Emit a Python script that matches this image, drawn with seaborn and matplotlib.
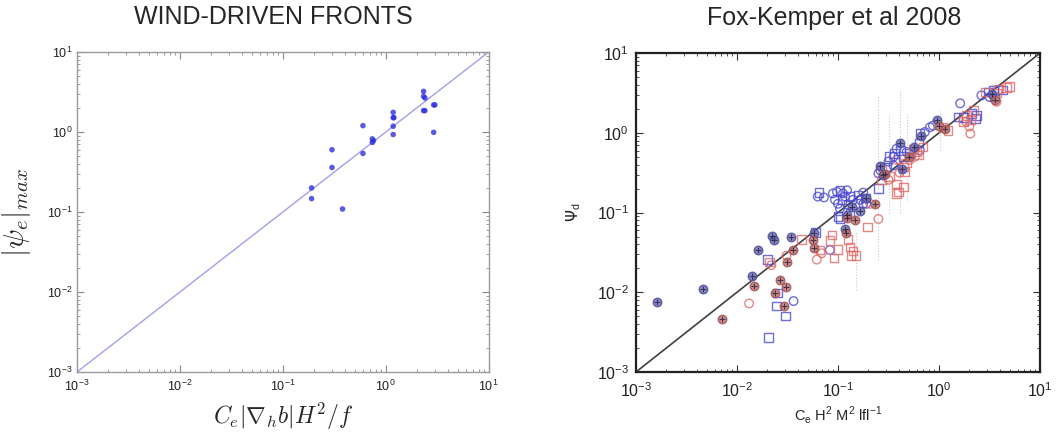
import numpy as np
import matplotlib.pyplot as plt
import pandas as pd
import seaborn as sns

# ---- left panel: wind-driven fronts
wind_x = [0.19, 0.19, 0.30, 0.30, 0.38, 0.60, 0.60, 0.74, 0.74, 0.76,
          1.18, 1.18, 1.20, 1.18, 1.18, 2.33, 2.33, 2.40, 2.33, 2.40, 2.92, 3.00, 2.92]
wind_y = [0.20, 0.147, 0.60, 0.36, 0.109, 1.20, 0.54, 0.82, 0.74, 0.78,
          1.76, 1.51, 1.51, 1.18, 0.93, 3.22, 2.79, 2.66, 1.85, 1.85, 2.18, 2.18, 0.99]

# ---- right panel: Fox-Kemper et al 2008 (log10 values)
blue_filled = [(-2.79, -2.12), (-2.34, -1.96), (-1.85, -1.79), (-1.79, -1.47), (-1.65, -1.29),
               (-1.63, -1.34), (-1.47, -1.31), (-1.24, -1.26), (-0.93, -1.21), (-0.91, -1.03),
               (-0.86, -0.93), (-0.78, -0.98), (-0.72, -0.82), (-0.58, -0.41), (-0.55, -0.53),
               (-0.39, -0.13), (-0.37, -0.45), (-0.25, -0.18), (-0.18, -0.04), (-0.02, 0.16),
               (0.52, 0.49)]
red_filled = [(-2.15, -2.34), (-1.83, -1.92), (-1.62, -2.01), (-1.57, -1.84), (-1.53, -2.17),
              (-1.51, -1.94), (-1.50, -1.62), (-1.45, -1.47), (-1.25, -1.34), (-1.24, -1.45),
              (-0.92, -1.26), (-0.91, -1.07), (-0.83, -1.09), (-0.63, -0.89), (-0.53, -0.51),
              (-0.30, -0.30), (0.00, 0.08), (0.06, 0.05), (0.55, 0.41)]
blue_circle = [(-1.44, -2.11), (-1.08, -1.47), (-1.20, -0.80), (-1.14, -0.81), (-1.05, -0.76),
               (-1.01, -0.74), (-0.95, -0.76), (-1.03, -0.84), (-1.00, -0.89), (-0.93, -0.80),
               (-0.91, -0.72), (-0.98, -0.95), (-0.85, -0.84), (-0.78, -0.84), (-0.75, -0.75),
               (-0.75, -0.89), (-0.72, -0.89), (-0.60, -0.51), (-0.58, -0.47), (-0.50, -0.36),
               (-0.45, -0.30), (-0.42, -0.20), (-0.32, -0.24), (-0.45, -0.41), (-0.19, -0.22),
               (-0.14, 0.01), (-0.09, 0.07), (-0.06, 0.09), (0.21, 0.37), (0.42, 0.47), (0.50, 0.45)]
red_circle = [(-1.88, -2.14), (-1.66, -1.66), (-1.51, -1.54), (-1.21, -1.59), (-1.16, -1.51),
              (-0.68, -0.89), (-0.60, -1.08), (-0.42, -0.34), (-0.39, -0.50), (-0.50, -0.59),
              (-0.56, -0.45), (-0.29, -0.34), (-0.24, -0.30), (0.30, 0.08), (0.31, -0.01),
              (0.27, 0.14), (0.57, 0.39)]
blue_square = [(-1.70, -1.59), (-1.61, -2.17), (-1.60, -2.01), (-1.52, -2.30), (-1.69, -2.57),
               (-1.22, -1.25), (-1.19, -0.75), (-0.98, -0.72), (-0.96, -0.84), (-0.88, -0.80),
               (-0.90, -0.89), (-0.80, -0.78), (-0.73, -0.82), (-0.88, -1.01), (-1.00, -1.05),
               (-0.98, -1.08), (-0.60, -0.70), (-0.52, -0.43), (-0.49, -0.30), (-0.44, -0.26),
               (-0.38, -0.22), (-0.35, -0.30), (-0.29, -0.26), (-0.20, -0.13), (-0.19, -0.01),
               (0.19, 0.20), (0.24, 0.19), (0.32, 0.24), (0.37, 0.22), (0.36, 0.18),
               (0.49, 0.51), (0.54, 0.53), (0.55, 0.45), (0.63, 0.54)]
red_square = [(-1.68, -1.62), (-1.36, -1.34), (-1.18, -1.47), (-1.06, -1.28), (-1.08, -1.35),
              (-1.04, -1.57), (-1.00, -1.46), (-0.90, -1.34), (-0.87, -1.54), (-0.82, -1.54),
              (-0.88, -1.43), (-0.85, -1.48), (-0.71, -1.18), (-0.57, -0.59), (-0.25, -0.21),
              (-0.22, -0.24), (-0.32, -0.38), (-0.35, -0.43), (-0.34, -0.49), (-0.49, -0.55),
              (-0.42, -0.64), (-0.42, -0.76), (-0.40, -0.74), (-0.35, -0.68), (-0.20, -0.28),
              (-0.16, -0.18), (0.04, 0.07), (0.09, 0.03), (0.24, 0.14), (0.27, 0.22),
              (0.34, 0.28), (0.31, 0.16), (0.46, 0.51), (0.57, 0.50), (0.59, 0.55),
              (0.67, 0.57), (0.70, 0.58)]

# faint dotted spread bars (log10 x, log10 low, log10 high)
spread_x = [-0.82, -0.60, -0.49, -0.39, -0.32, 0.01, 0.52]
spread_lo = [-1.97, -1.59, -1.01, -1.01, -0.84, -0.22, 0.41]
spread_hi = [-1.26, 0.45, 0.22, 0.53, 0.24, 0.28, 0.62]


def to_frame(pairs, kind):
    df = pd.DataFrame(pairs, columns=['lx', 'ly'])
    df['x'] = 10 ** df['lx']
    df['y'] = 10 ** df['ly']
    df['kind'] = kind
    return df


fk = pd.concat([to_frame(blue_filled, 'bf'), to_frame(red_filled, 'rf'),
                to_frame(blue_circle, 'bc'), to_frame(red_circle, 'rc'),
                to_frame(blue_square, 'bs'), to_frame(red_square, 'rs')], ignore_index=True)

sns.set_style('ticks')
plt.rcParams['font.family'] = ['Liberation Sans', 'DejaVu Sans']

fig = plt.figure(figsize=(10.61, 4.38), dpi=100)
ax1 = fig.add_axes([0.0726, 0.1507, 0.388, 0.7306])
ax2 = fig.add_axes([0.5994, 0.1507, 0.3808, 0.728])

# ---- left panel
line = np.array([1e-3, 10])
ax1.plot(line, line, color='#a0a0ee', lw=1.0, zorder=1)
sns.scatterplot(x=wind_x, y=wind_y, ax=ax1, color='#3030dd', marker='o', s=16,
                edgecolor='none', alpha=0.8, zorder=3)
ax1.set_xscale('log')
ax1.set_yscale('log')
ax1.set_xlim(1e-3, 10)
ax1.set_ylim(1e-3, 10)
for sp in ax1.spines.values():
    sp.set_visible(True)
    sp.set_color('#9a9a9a')
    sp.set_linewidth(1.0)
ax1.tick_params(which='both', direction='in', top=True, right=True, color='#8a8a8a',
                labelsize=9, labelcolor='#222222')
ax1.tick_params(which='major', length=5)
ax1.tick_params(which='minor', length=2.5)
ax1.tick_params(axis='x', pad=5)
ax1.set_ylabel(r'$|\psi_e|_{max}$', fontsize=21, math_fontfamily='cm', labelpad=10)
ax1.set_xlabel(r'$C_e|\nabla_h b|H^2/f$', fontsize=17, math_fontfamily='cm', labelpad=5)

# ---- right panel
for sx, lo, hi in zip(spread_x, spread_lo, spread_hi):
    ax2.plot([10 ** sx, 10 ** sx], [10 ** lo, 10 ** hi], color='#c8c8d8', lw=0.8,
             ls=':', zorder=0)
ax2.plot(line, line, color='#404040', lw=1.2, zorder=1)

styles = {
    'bc': dict(marker='o', facecolor='none', edgecolor='#4a4ad0'),
    'rc': dict(marker='o', facecolor='none', edgecolor='#e06a6a'),
    'bs': dict(marker='s', facecolor='none', edgecolor='#4a4ad0'),
    'rs': dict(marker='s', facecolor='none', edgecolor='#e06a6a'),
    'bf': dict(marker='o', facecolor='#6a6ab8', edgecolor='#4a4a9a'),
    'rf': dict(marker='o', facecolor='#c07070', edgecolor='#a05050'),
}
for kind, st in styles.items():
    sub = fk[fk['kind'] == kind]
    sns.scatterplot(data=sub, x='x', y='y', ax=ax2, marker=st['marker'], s=38,
                    facecolor=st['facecolor'], edgecolor=st['edgecolor'], linewidth=1.0,
                    alpha=0.8, zorder=3, legend=False)
    if kind in ('bf', 'rf'):
        sns.scatterplot(data=sub, x='x', y='y', ax=ax2, marker='+', s=22,
                        color='#222233', linewidth=0.8, alpha=0.8, zorder=4, legend=False)

ax2.set_xscale('log')
ax2.set_yscale('log')
ax2.set_xlim(1e-3, 10)
ax2.set_ylim(1e-3, 10)
for sp in ax2.spines.values():
    sp.set_visible(True)
    sp.set_color('#222222')
    sp.set_linewidth(1.6)
ax2.tick_params(which='both', direction='in', top=True, right=True, color='#333333',
                labelsize=11.5, labelcolor='#222222')
ax2.tick_params(which='major', length=5)
ax2.tick_params(which='minor', length=2.5)
ax2.tick_params(axis='x', pad=7)
ax2.tick_params(axis='y', pad=5)
ax2.set_xlabel(r'C$_\mathregular{e}$ H$^\mathregular{2}$ M$^\mathregular{2}$ lfl$^\mathregular{-1}$',
               fontsize=10.5)
ax2.set_ylabel(r'$\Psi_\mathregular{d}$', fontsize=11)
ax2.xaxis.set_label_coords(0.5, -0.1)
ax2.yaxis.set_label_coords(-0.13, 0.5)

fig.text(273 / 1061, 1 - 17 / 438, 'WIND-DRIVEN FRONTS', ha='center', va='center', fontsize=18)
fig.text(834 / 1061, 1 - 18 / 438, 'Fox-Kemper et al 2008', ha='center', va='center', fontsize=18)

fig.savefig('out.png', dpi=100)
